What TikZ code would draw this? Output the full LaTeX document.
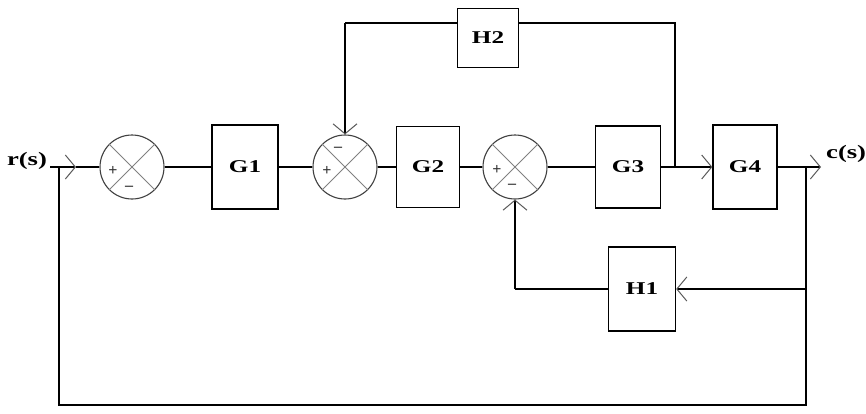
\documentclass[tikz,border=0pt]{standalone}
\usepackage{fontspec}
\setmainfont{Liberation Serif}
\newfontfamily\lblfont[FakeStretch=1.4]{Liberation Serif}
\usetikzlibrary{arrows.meta}
\begin{document}
\begin{tikzpicture}[x=1pt,y=-1pt,
  line/.style={line width=1.3pt, draw=black},
  blk/.style={draw, line width=1.3pt, rectangle, inner sep=0pt, fill=white,
    font=\lblfont\bfseries\fontsize{18}{18}\selectfont},
  sumj/.style={draw=black!75, line width=1.1pt, circle, minimum size=64pt, inner sep=0pt},
  xline/.style={draw=gray, line width=0.9pt},
  sgn/.style={font=\bfseries\fontsize{16}{16}\selectfont, text=black!80, inner sep=0pt},
  arr/.style={-{Straight Barb[length=10pt,width=24pt,line width=1pt,color=gray!70!black]}},
  lab/.style={font=\lblfont\bfseries\fontsize{19}{19}\selectfont, inner sep=0pt}
]
\useasboundingbox (0,0) rectangle (866,413);
\def\my{167}
% main path nodes
\node[sumj] (s1) at (132,\my) {};
\node[blk, minimum width=66pt, minimum height=84pt] (G1) at (245,\my) {G1};
\node[sumj] (s2) at (345,\my) {};
\node[blk, minimum width=63pt, minimum height=81pt] (G2) at (428,\my) {G2};
\node[sumj] (s3) at (515,\my) {};
\node[blk, minimum width=65pt, minimum height=82pt] (G3) at (628,\my) {G3};
\node[blk, minimum width=64pt, minimum height=84pt] (G4) at (745,\my) {G4};
\node[blk, minimum width=61pt, minimum height=59pt] (H2) at (488,38) {H2};
\node[blk, minimum width=67pt, minimum height=84pt] (H1) at (642,289) {H1};
% labels
\node[lab] (rs) at (27,\my-6) {r(s)};
\node[lab, anchor=west] (cs) at (826,\my-13) {c(s)};
% crosses in summing junctions
\draw[xline] (s1.45) -- (s1.225) (s1.135) -- (s1.-45);
\draw[xline] (s2.45) -- (s2.225) (s2.135) -- (s2.-45);
\draw[xline] (s3.45) -- (s3.225) (s3.135) -- (s3.-45);
% signs
\node[sgn] (p1) at ([shift={(-19,4)}]s1.center) {+};
\node[sgn] (m1) at ([shift={(-3,21)}]s1.center) {–};
\node[sgn] (m2) at ([shift={(-7,-18)}]s2.center) {–};
\node[sgn] (p2) at ([shift={(-18,4)}]s2.center) {+};
\node[sgn] (p3) at ([shift={(-18,3)}]s3.center) {+};
\node[sgn] (m3) at ([shift={(-3,19)}]s3.center) {–};
% coordinates
\coordinate (rin) at (50,\my);
\coordinate (j0) at (59,\my);
\coordinate (a1) at (76,\my);
\coordinate (j2) at (675,\my);
\coordinate (j3) at (806,\my);
\coordinate (out) at (821,\my);
\coordinate (t1) at (345,23);
\coordinate (t2) at (675,23);
\coordinate (b1) at (806,289);
\coordinate (b2) at (515,289);
\coordinate (b3) at (806,405);
\coordinate (b4) at (59,405);
% forward path
\draw[line,arr] (rin) -- (a1);
\draw[line] (a1) -- (s1.west);
\draw[line] (s1.east) -- (G1.west);
\draw[line] (G1.east) -- (s2.west);
\draw[line] (s2.east) -- (G2.west);
\draw[line] (G2.east) -- (s3.west);
\draw[line] (s3.east) -- (G3.west);
\draw[line] (G3.east) -- (j2);
\draw[line,arr] (j2) -- (G4.west);
\draw[line,arr] (G4.east) -- (out);
% H2 loop
\draw[line] (j2) -- (t2) -- (t2 -| H2.east);
\draw[line] (t1 -| H2.west) -- (t1);
\draw[line,arr] (t1) -- (s2.north);
% H1 loop
\draw[line] (j3) -- (b1);
\draw[line,arr] (b1) -- (H1.east);
\draw[line] (H1.west) -- (b2);
\draw[line,arr] (b2) -- (s3.south);
% outer loop
\draw[line] (b1) -- (b3) -- (b4) -- (j0);
\end{tikzpicture}
\end{document}
